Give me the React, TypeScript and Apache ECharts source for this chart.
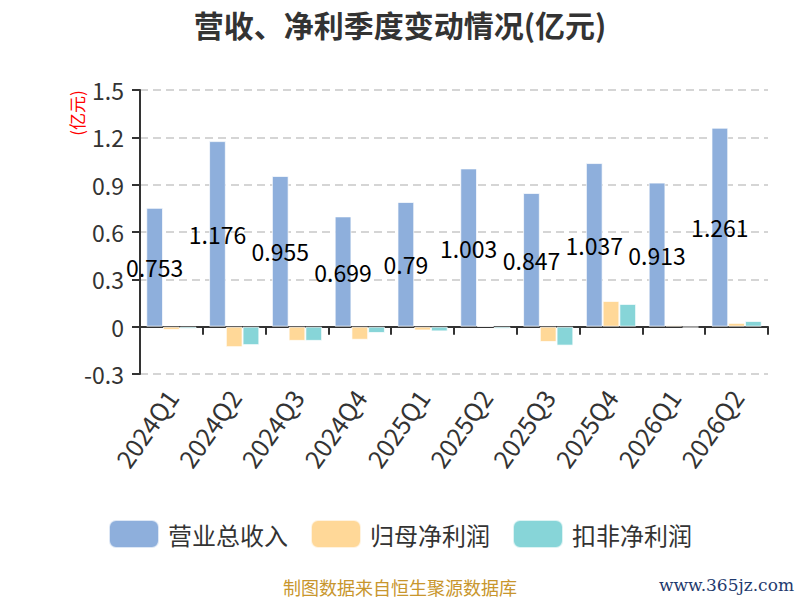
import { useEffect, useRef } from 'react'
import * as echarts from 'echarts'

const quarters = ['2024Q1', '2024Q2', '2024Q3', '2024Q4', '2025Q1', '2025Q2', '2025Q3', '2025Q4', '2026Q1', '2026Q2']
const revenue = [0.753, 1.176, 0.955, 0.699, 0.79, 1.003, 0.847, 1.037, 0.913, 1.261]
const netProfit = [-0.021, -0.13, -0.09, -0.083, -0.024, 0.002, -0.097, 0.163, 0.01, 0.024]
const deductedProfit = [-0.013, -0.117, -0.09, -0.04, -0.03, -0.013, -0.12, 0.144, -0.005, 0.036]
const seriesNames = ['营业总收入', '归母净利润', '扣非净利润']
const seriesColors = ['#8eafdc', '#ffd898', '#87d5d8']

const FONT = '"Noto Sans CJK SC", "Noto Sans", sans-serif'

export default function App() {
  const chartRef = useRef<HTMLDivElement>(null)

  useEffect(() => {
    if (!chartRef.current) return
    const chart = echarts.init(chartRef.current, undefined, { renderer: 'svg' })

    const dataSets = [revenue, netProfit, deductedProfit]

    const option = {
      animation: false,
      textStyle: { fontFamily: FONT },
      title: {
        text: '营收、净利季度变动情况(亿元)',
        left: 'center',
        top: 4,
        textStyle: { fontSize: 30, fontWeight: 'bold', color: '#333', fontFamily: FONT }
      },
      legend: {
        bottom: 46,
        left: 'center',
        itemWidth: 50,
        itemHeight: 28,
        itemGap: 22,
        icon: 'roundRect',
        data: seriesNames,
        textStyle: { fontSize: 24, color: '#333', padding: [0, 0, 0, 4], fontFamily: FONT }
      },
      grid: {
        left: 140,
        right: 32,
        top: 90,
        bottom: 226
      },
      xAxis: {
        type: 'category',
        data: quarters,
        axisLine: { onZero: true, lineStyle: { color: '#333', width: 2 } },
        axisTick: { show: true, length: 8, lineStyle: { color: '#333', width: 2 } },
        axisLabel: {
          rotate: 55,
          margin: 18,
          fontSize: 25,
          color: '#333',
          fontFamily: FONT
        }
      },
      yAxis: {
        type: 'value',
        min: -0.3,
        max: 1.5,
        interval: 0.3,
        axisLine: { show: true, lineStyle: { color: '#333', width: 2 } },
        axisTick: { show: true, length: 8, lineStyle: { color: '#333', width: 2 } },
        axisLabel: {
          fontSize: 23,
          color: '#333',
          margin: 16,
          fontFamily: FONT,
          formatter: (v: number) => String(Number(v.toFixed(1)))
        },
        splitLine: {
          lineStyle: { color: '#c8c8c8', type: [8, 5], width: 1.5 }
        }
      },
      graphic: [
        {
          type: 'text',
          x: 76,
          y: 113,
          rotation: Math.PI / 2,
          style: {
            text: '(亿元)',
            fill: '#ff0000',
            fontSize: 17,
            fontFamily: FONT,
            textAlign: 'center',
            textVerticalAlign: 'middle'
          }
        },
        {
          type: 'text',
          left: 'center',
          top: 578,
          style: {
            text: '制图数据来自恒生聚源数据库',
            fill: '#c8962d',
            fontSize: 18,
            fontFamily: FONT
          }
        },
        {
          type: 'text',
          right: 6,
          top: 576,
          style: {
            text: 'www.365jz.com',
            fill: '#1f3a6e',
            fontSize: 17,
            fontFamily: '"DejaVu Serif", serif'
          }
        }
      ],
      series: dataSets.map((d, i) => ({
        name: seriesNames[i],
        type: 'bar',
        data: d,
        barGap: '0%',
        barCategoryGap: '20%',
        itemStyle: {
          color: seriesColors[i],
          borderColor: 'rgba(255,255,255,0.7)',
          borderWidth: 1
        },
        label: i === 0
          ? {
              show: true,
              position: 'inside',
              color: '#000',
              fontSize: 23,
              fontFamily: FONT
            }
          : { show: false }
      }))
    }

    chart.setOption(option)

    return () => {
      chart.dispose()
    }
  }, [])

  return (
    <div
      ref={chartRef}
      style={{ position: 'absolute', left: 0, top: 0, width: 800, height: 600 }}
    />
  )
}
